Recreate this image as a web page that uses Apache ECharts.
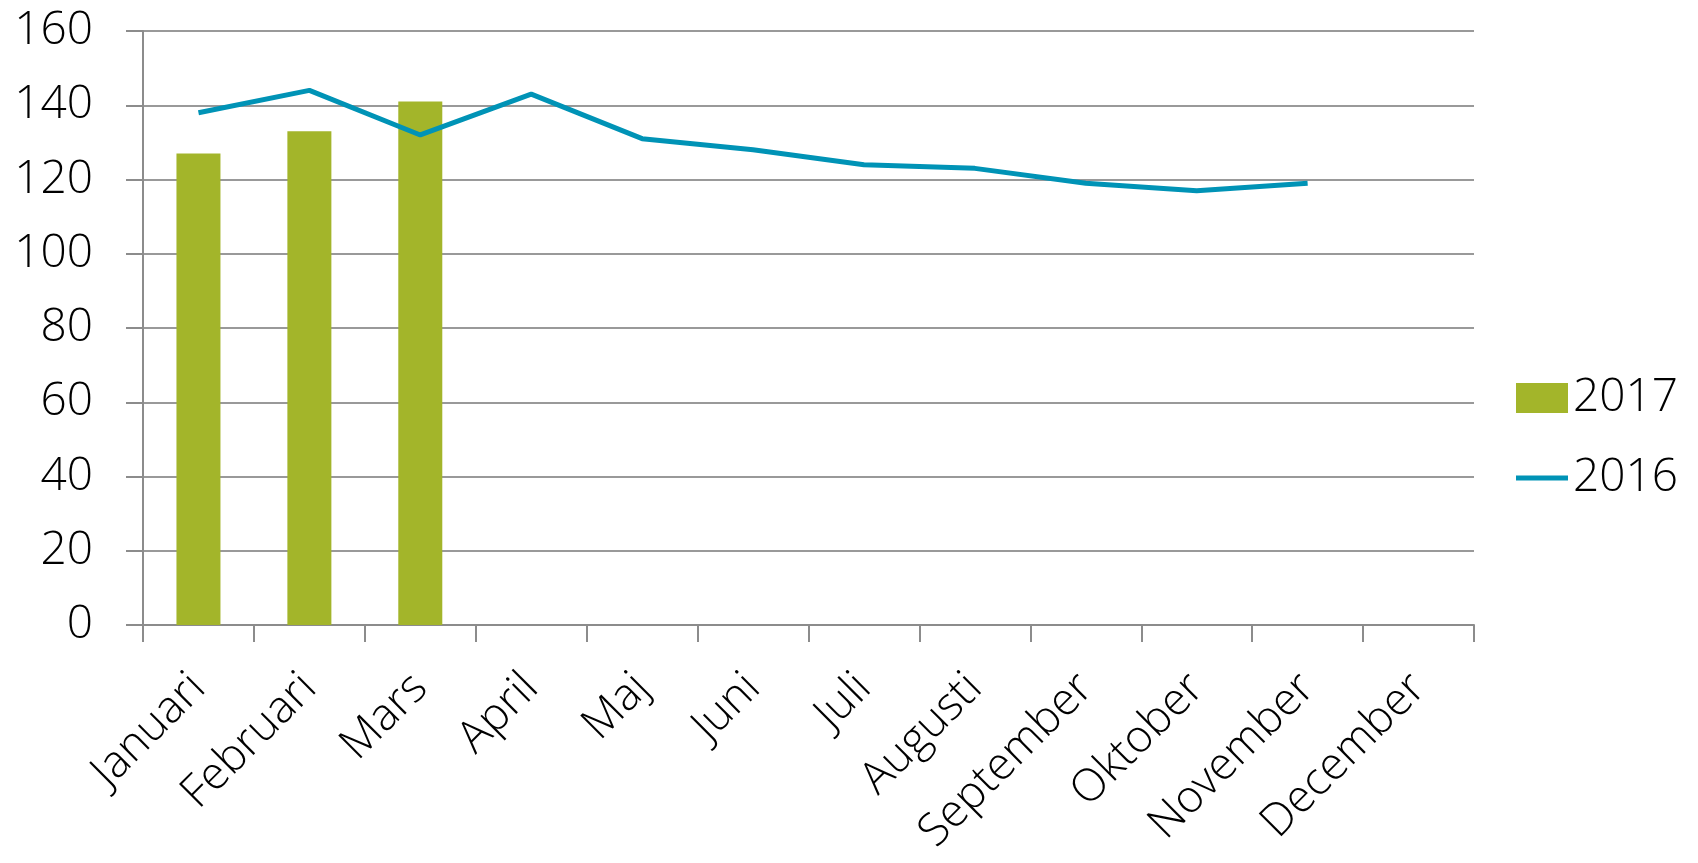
<!DOCTYPE html>
<html>
<head>
<meta charset="utf-8">
<script src="https://cdn.jsdelivr.net/npm/echarts@6/dist/echarts.min.js"></script>
<style>
  html, body { margin: 0; padding: 0; background: #fff; }
  #chart { width: 1698px; height: 863px; }
</style>
</head>
<body>
<div id="chart"></div>
<script>
// data
const months = ['Januari', 'Februari', 'Mars', 'April', 'Maj', 'Juni', 'Juli',
  'Augusti', 'September', 'Oktober', 'November', 'December'];
const values2017 = [127, 133, 141, null, null, null, null, null, null, null, null, null];
const values2016 = [138, 144, 132, 143, 131, 128, 124, 123, 119, 117, 119, null];
const yTicks = { min: 0, max: 160, interval: 20 };

const font = 'Open Sans';
const axisGray = '#8c8c8c';
// thin horizontal bar inside a 52x30 box, used as the line legend icon
const lineIcon = 'path://M0,0L0.01,0M0,12.5L52,12.5L52,17.5L0,17.5ZM0,30L0.01,30';

let myChart = echarts.init(document.getElementById('chart'));
let option = {
  animation: false,
  grid: {
    left: 143,
    right: 224,
    top: 31,
    bottom: 238
  },
  legend: {
    orient: 'vertical',
    left: 1511,
    top: 370,
    itemWidth: 52,
    itemHeight: 30,
    itemGap: 34,
    textStyle: {
      fontFamily: font,
      fontWeight: 300,
      fontSize: 46,
      color: '#000'
    },
    data: [
      { name: '2017', icon: 'rect' },
      { name: '2016', icon: lineIcon, itemStyle: { color: '#0093b6' } }
    ]
  },
  xAxis: {
    type: 'category',
    data: months,
    axisLine: { lineStyle: { color: axisGray, width: 2 } },
    axisTick: { show: true, length: 17, lineStyle: { color: axisGray, width: 2 } },
    axisLabel: {
      rotate: 45,
      interval: 0,
      margin: 56,
      fontFamily: font,
      fontWeight: 300,
      fontSize: 45,
      color: '#000'
    }
  },
  yAxis: {
    type: 'value',
    min: yTicks.min,
    max: yTicks.max,
    interval: yTicks.interval,
    axisLine: { show: true, lineStyle: { color: axisGray, width: 2 } },
    axisTick: { show: true, length: 17, lineStyle: { color: axisGray, width: 2 } },
    splitLine: { show: true, lineStyle: { color: '#999', width: 2 } },
    axisLabel: {
      margin: 50,
      fontFamily: font,
      fontWeight: 300,
      fontSize: 46,
      color: '#000'
    }
  },
  series: [
    {
      name: '2017',
      type: 'bar',
      data: values2017,
      barWidth: 44,
      itemStyle: { color: '#a3b52a' }
    },
    {
      name: '2016',
      type: 'line',
      data: values2016,
      symbol: 'none',
      lineStyle: { color: '#0093b6', width: 5 },
      itemStyle: { color: '#0093b6' },
      z: 3
    }
  ]
};
myChart.setOption(option);
</script>
</body>
</html>
